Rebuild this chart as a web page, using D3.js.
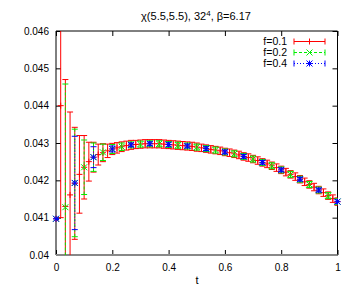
<!DOCTYPE html>
<html><head><meta charset="utf-8">
<script src="https://cdn.jsdelivr.net/npm/d3@7"></script>
<style>body{margin:0;background:#fff}svg{display:block;font-family:"Liberation Sans",Arial,sans-serif}</style>
</head><body>
<script>
// ---- data ----
const tRed = [0,.0167,.0333,.05,.0667,.0833,.1,.1167,.1333,.15,.1667,.1833,.2,.2167,.2333,.25,.2667,.2833,.3,.3167,.3333,.35,.3667,.3833,.4,.4167,.4333,.45,.4667,.4833,.5,.5167,.5333,.55,.5667,.5833,.6,.6167,.6333,.65,.6667,.6833,.7,.7167,.7333,.75,.7667,.7833,.8,.8167,.8333,.85,.8667,.8833,.9,.9167,.9333,.95,.9667,.9833,1];
const vRed = [0.04097,0.04400,0.04130,0.04161,0.04192,0.04216,0.04235,0.04250,0.04262,0.04269,0.04274,0.04279,0.04284,0.04287,0.04290,0.04293,0.04295,0.04296,0.04297,0.04298,0.04298,0.04298,0.04298,0.04297,0.04296,0.04295,0.04294,0.04293,0.04292,0.04291,0.04289,0.04287,0.04285,0.04283,0.04281,0.04279,0.04276,0.04274,0.04271,0.04268,0.04264,0.04261,0.04257,0.04253,0.04248,0.04244,0.04239,0.04234,0.04228,0.04222,0.04216,0.04210,0.04203,0.04196,0.04189,0.04182,0.04174,0.04167,0.04159,0.04151,0.04143];
const eRed = [0.00003,0.0030,0.0034,0.00222,0.0015,0.00104,0.00085,0.00052,0.00040,0.00028,0.00024,0.00018,0.00015,0.00014,0.00013,0.00012,0.00012,0.00011,0.00011,0.00011,0.00011,0.00011,0.00011,0.00011,0.00011,0.00011,0.00011,0.00011,0.00011,0.00011,0.00011,0.0001,0.0001,0.0001,0.0001,0.0001,0.0001,0.0001,0.0001,0.0001,0.0001,0.0001,0.0001,0.0001,0.0001,0.0001,0.0001,0.0001,0.0001,0.0001,0.0001,0.0001,0.0001,0.0001,0.0001,0.0001,0.0001,0.0001,0.0001,0.0001,0.0001];

const tGreen = [0,.0333,.0667,.1,.1333,.1667,.2,.2333,.2667,.3,.3333,.3667,.4,.4333,.4667,.5,.5333,.5667,.6,.6333,.6667,.7,.7333,.7667,.8,.8333,.8667,.9,.9333,.9667,1];
const vGreen = [0.04097,0.04128,0.04193,0.04235,0.04262,0.04275,0.04284,0.04290,0.04295,0.04297,0.04298,0.04298,0.04296,0.04294,0.04292,0.04289,0.04285,0.04281,0.04276,0.04271,0.04264,0.04257,0.04248,0.04239,0.04228,0.04216,0.04203,0.04189,0.04174,0.04159,0.04143];
const eGreen = [0.00002,0.0033,0.00144,0.00073,0.00038,0.00022,0.00012,0.0001,0.00008,0.00008,0.00008,0.00008,0.00008,0.00008,0.00008,0.00008,0.00008,0.00008,0.00008,0.00008,0.00008,0.00008,0.00008,0.00008,0.00008,0.00008,0.00008,0.00008,0.00008,0.00008,0.00008];

const tBlue = [0,.0667,.1333,.2,.2667,.3333,.4,.4667,.5333,.6,.6667,.7333,.8,.8667,.9333,1];
const vBlue = [0.04097,0.04193,0.04262,0.04284,0.04295,0.04298,0.04296,0.04292,0.04285,0.04276,0.04264,0.04248,0.04228,0.04203,0.04174,0.04143];
const eBlue = [0.00002,0.00125,0.00028,0.00008,0.00005,0.00005,0.00005,0.00005,0.00005,0.00005,0.00005,0.00005,0.00005,0.00005,0.00005,0.00005];

const seriesNames = ["f=0.1","f=0.2","f=0.4"];
const xTicks = [0,0.2,0.4,0.6,0.8,1];
const yTicks = [0.04,0.041,0.042,0.043,0.044,0.045,0.046];

// ---- drawing ----
const W=354,H=287;
const L=56,R=337.5,T=31,B=255;
const svg=d3.select("body").append("svg").attr("width",W).attr("height",H);
const x=d3.scaleLinear().domain([0,1]).range([L,R]);
const y=d3.scaleLinear().domain([0.04,0.046]).range([B,T]);

svg.append("defs").append("clipPath").attr("id","clip")
  .append("rect").attr("x",L).attr("y",T).attr("width",R-L).attr("height",B-T);

const fmtY=d=>d===0.04?"0.04":d3.format(".3f")(d);
const fmtX=d=>d===0||d===1?String(d):d3.format(".1f")(d);
const axL=svg.append("g").attr("transform",`translate(${L},0)`).call(d3.axisLeft(y).tickValues(yTicks).tickFormat(fmtY).tickSize(-5).tickPadding(7));
const axRt=svg.append("g").attr("transform",`translate(${R},0)`).call(d3.axisRight(y).tickValues(yTicks).tickFormat("").tickSize(-5));
const axB=svg.append("g").attr("transform",`translate(0,${B})`).call(d3.axisBottom(x).tickValues(xTicks).tickFormat(fmtX).tickSize(-5).tickPadding(9));
const axT=svg.append("g").attr("transform",`translate(0,${T})`).call(d3.axisTop(x).tickValues(xTicks).tickFormat("").tickSize(-5));
[axL,axRt,axB,axT].forEach(g=>{g.select(".domain").remove();g.selectAll("line").attr("stroke","#000");
  g.selectAll("text").attr("font-size",10).attr("fill","#000").attr("font-family","Liberation Sans, Arial, sans-serif");});
svg.append("line").attr("x1",L).attr("x2",R).attr("y1",T).attr("y2",T).attr("stroke","#000");
svg.append("line").attr("x1",L).attr("x2",L).attr("y1",T).attr("y2",B).attr("stroke","#000");
svg.append("line").attr("x1",R).attr("x2",R).attr("y1",T).attr("y2",B).attr("stroke","#000");
svg.append("line").attr("x1",L).attr("x2",R).attr("y1",B).attr("y2",B).attr("stroke","#888").attr("stroke-width",2);

const styles=[
  {color:"#ff0000",dash:null,marker:"plus"},
  {color:"#00ee00",dash:"3,2",marker:"cross"},
  {color:"#0000ff",dash:"1,2",marker:"star"}
];
function markerPath(type,cx,cy,s){
  const p=d3.path();
  if(type==="plus"||type==="star"){p.moveTo(cx-s,cy);p.lineTo(cx+s,cy);p.moveTo(cx,cy-s);p.lineTo(cx,cy+s);}
  if(type==="cross"||type==="star"){p.moveTo(cx-s,cy-s);p.lineTo(cx+s,cy+s);p.moveTo(cx-s,cy+s);p.lineTo(cx+s,cy-s);}
  return p.toString();
}
function drawSeries(ts,vs,es,st){
  const g=svg.append("g");
  const gb=g.append("g").attr("clip-path","url(#clip)");
  ts.forEach((t,i)=>{
    const cx=x(t),y1=y(vs[i]-es[i]),y2=y(vs[i]+es[i]);
    gb.append("line").attr("x1",cx).attr("x2",cx).attr("y1",y1).attr("y2",y2)
      .attr("stroke",st.color).attr("stroke-dasharray",st.dash);
    [y1,y2].forEach(yy=>gb.append("line").attr("x1",cx-3).attr("x2",cx+3).attr("y1",yy).attr("y2",yy).attr("stroke",st.color));
  });
  ts.forEach((t,i)=>{
    g.append("path").attr("d",markerPath(st.marker,x(t),y(vs[i]),3)).attr("stroke",st.color).attr("fill","none");
  });
}
drawSeries(tRed,vRed,eRed,styles[0]);
drawSeries(tGreen,vGreen,eGreen,styles[1]);
drawSeries(tBlue,vBlue,eBlue,styles[2]);

// legend
seriesNames.forEach((n,i)=>{
  const cy=41.5+i*11, st=styles[i];
  svg.append("text").attr("x",287).attr("y",cy+3.5).attr("text-anchor","end").attr("font-size",10.5).text(n);
  svg.append("line").attr("x1",294).attr("x2",325).attr("y1",cy).attr("y2",cy).attr("stroke",st.color).attr("stroke-dasharray",st.dash);
  [294,325].forEach(xx=>svg.append("line").attr("x1",xx).attr("x2",xx).attr("y1",cy-3).attr("y2",cy+3).attr("stroke",st.color));
  svg.append("path").attr("d",markerPath(st.marker,309.5,cy,3)).attr("stroke",st.color).attr("fill","none");
});

// title
const title=svg.append("text").attr("x",196).attr("y",20).attr("text-anchor","middle").attr("font-size",11);
title.append("tspan").text("χ(5.5,5.5), 32");
title.append("tspan").attr("dy",-4).attr("font-size",8).text("4");
title.append("tspan").attr("dy",4).text(", β=6.17");
svg.append("text").attr("x",197).attr("y",284).attr("text-anchor","middle").attr("font-size",11).text("t");
</script>
</body></html>
